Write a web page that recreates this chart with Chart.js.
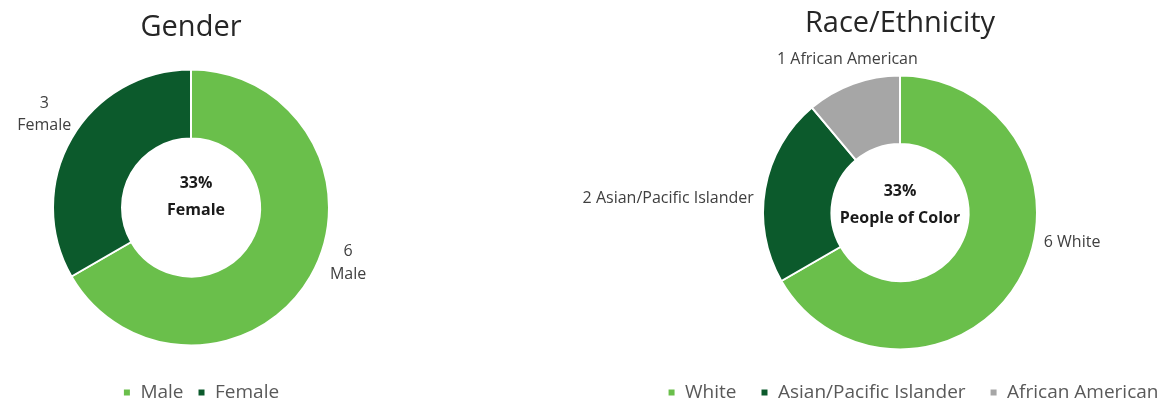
<!DOCTYPE html>
<html>
<head>
<meta charset="utf-8">
<script src="https://cdn.jsdelivr.net/npm/chart.js@4.4.1/dist/chart.umd.min.js"></script>
<style>
  html, body { margin: 0; padding: 0; background: #fff; overflow: hidden; width: 1171px; height: 406px; position: relative; }
  canvas { position: absolute; top: 0; }
  #genderChart { left: 0; }
  #raceChart { left: 560px; }
</style>
</head>
<body>
<canvas id="genderChart" width="382" height="412"></canvas>
<canvas id="raceChart" width="680" height="412"></canvas>
<script>
const genderLabels = ['Male', 'Female'];
const genderCounts = [6, 3];
const raceLabels = ['White', 'Asian/Pacific Islander', 'African American'];
const raceCounts = [6, 2, 1];

const FONT = "'Open Sans', sans-serif";
const LIGHT = '#6abf4b';
const DARK = '#0c5a2c';
const GREY = '#a6a6a6';

Chart.defaults.font.family = FONT;
Chart.defaults.animation = false;

// share of everything except the first slice
function minorityPct(counts) {
    const total = counts.reduce((a, b) => a + b, 0);
    return Math.round((total - counts[0]) / total * 100) + '%';
}

// value labels outside each slice, pushed out along the slice angle
const sliceLabels = {
    id: 'sliceLabels',
    afterDatasetsDraw(chart, args, opts) {
        const ctx = chart.ctx;
        const meta = chart.getDatasetMeta(0);
        const data = chart.data.datasets[0].data;
        const lh = opts.size * 1.4;
        ctx.save();
        ctx.font = `${opts.size}px ${FONT}`;
        ctx.fillStyle = opts.color;
        ctx.textAlign = 'center';
        ctx.textBaseline = 'middle';
        meta.data.forEach((arc, i) => {
            const p = arc.getProps(['x', 'y', 'startAngle', 'endAngle', 'outerRadius'], true);
            const a = (p.startAngle + p.endAngle) / 2 + (opts.nudge[i] || 0) * Math.PI / 180;
            const dx = Math.cos(a), dy = Math.sin(a);
            const lines = opts.stacked
                ? [String(data[i]), chart.data.labels[i]]
                : [data[i] + ' ' + chart.data.labels[i]];
            const hw = Math.max(...lines.map(l => ctx.measureText(l).width)) / 2;
            const hh = lines.length * lh / 2;
            const r = p.outerRadius + opts.gap;
            const cx = p.x + dx * (r + hw);
            const cy = p.y + dy * (r + hh);
            lines.forEach((l, k) => ctx.fillText(l, cx, cy - hh + lh / 2 + k * lh));
        });
        ctx.restore();
    }
};

// bold text in the hole
const centerText = {
    id: 'centerText',
    afterDatasetsDraw(chart, args, opts) {
        const ctx = chart.ctx;
        const arc = chart.getDatasetMeta(0).data[0];
        const {x, y} = arc.getProps(['x', 'y'], true);
        ctx.save();
        ctx.font = `bold ${opts.size}px ${FONT}`;
        ctx.fillStyle = opts.color;
        ctx.textAlign = 'center';
        ctx.textBaseline = 'middle';
        const n = opts.lines.length;
        opts.lines.forEach((l, k) => {
            ctx.fillText(l, x + opts.dx, y + opts.dy + (k - (n - 1) / 2) * opts.spacing);
        });
        ctx.restore();
    }
};

// nudge the legend sideways, the donut stays put
const legendShift = {
    id: 'legendShift',
    afterLayout(chart, args, opts) {
        if (chart.legend && opts.dx) {
            chart.legend.left += opts.dx;
            chart.legend.right += opts.dx;
        }
    }
};

function makeDonut(id, labels, counts, colors, cfg) {
    new Chart(document.getElementById(id), {
        type: 'doughnut',
        data: {
            labels: labels,
            datasets: [{
                data: counts,
                backgroundColor: colors,
                borderColor: '#ffffff',
                borderWidth: 2,
                radius: cfg.radius,
                cutout: '50%'
            }]
        },
        options: {
            responsive: false,
            events: [],
            plugins: {
                title: {
                    display: true,
                    text: cfg.title,
                    color: '#262626',
                    font: { size: 29, lineHeight: 1, weight: 'normal' },
                    padding: cfg.titlePad
                },
                legend: {
                    position: 'bottom',
                    labels: {
                        boxWidth: 8,
                        boxHeight: 8,
                        padding: cfg.legendPad,
                        color: '#595959',
                        font: { size: 19 }
                    }
                },
                tooltip: { enabled: false },
                sliceLabels: { size: 16, color: '#404040', gap: 10, stacked: cfg.stacked, nudge: cfg.nudge },
                centerText: { size: 16, color: '#1a1a1a', spacing: 27, dx: cfg.centerDx, dy: cfg.centerDy, lines: cfg.center },
                legendShift: { dx: cfg.legendDx }
            }
        },
        plugins: [sliceLabels, centerText, legendShift]
    });
}

makeDonut('genderChart', genderLabels, genderCounts, [LIGHT, DARK], {
    title: 'Gender',
    titlePad: { top: 13, bottom: 4 },
    legendPad: 14,
    legendDx: 10,
    radius: 138,
    stacked: true,
    nudge: [-11, 3],
    center: [minorityPct(genderCounts), 'Female'],
    centerDx: 5,
    centerDy: -11
});

makeDonut('raceChart', raceLabels, raceCounts, [LIGHT, DARK, GREY], {
    title: 'Race/Ethnicity',
    titlePad: { top: 9, bottom: 28 },
    legendPad: 24,
    legendDx: 13,
    radius: 137,
    stacked: false,
    nudge: [-19, -5, 6],
    center: [minorityPct(raceCounts), 'People of Color'],
    centerDx: 0,
    centerDy: -7.5
});
</script>
</body>
</html>
